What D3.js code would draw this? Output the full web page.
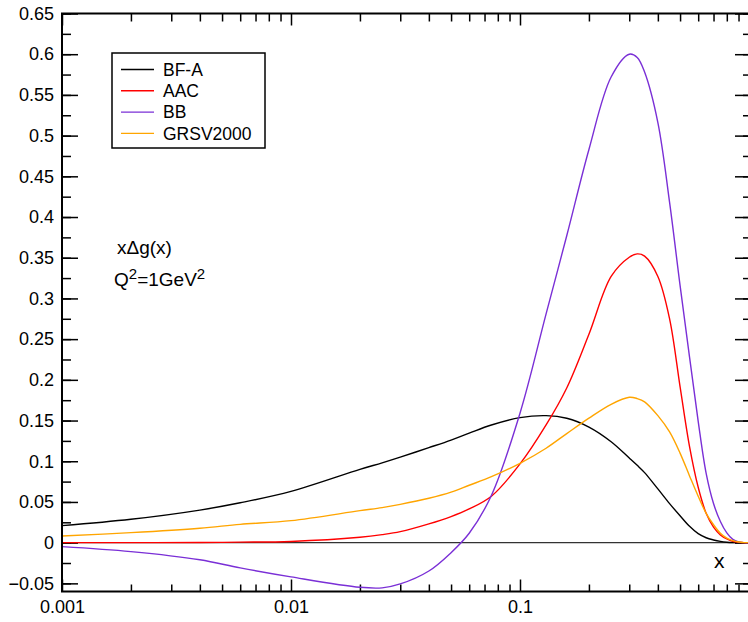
<!DOCTYPE html>
<html>
<head>
<meta charset="utf-8">
<script src="https://cdn.jsdelivr.net/npm/d3@7"></script>
<style>
  body { margin: 0; background: #fff; }
  svg text { font-family: "Liberation Sans", Arial, sans-serif; fill: #000; }
</style>
</head>
<body>
<svg id="chart" width="748" height="622"></svg>
<script>
// x Delta g(x) at Q^2 = 1 GeV^2 for four parametrisations

var xs = [0.001, 0.002, 0.004, 0.006, 0.01, 0.02, 0.025, 0.03, 0.04, 0.05, 0.06, 0.075,
          0.1, 0.13, 0.16, 0.2, 0.25, 0.3, 0.325, 0.35, 0.4, 0.45, 0.5, 0.55, 0.6, 0.65,
          0.7, 0.75, 0.8, 0.85, 0.9, 0.95, 1.0];

var bfa = [0.0209, 0.0287, 0.040, 0.049, 0.063, 0.090, 0.098, 0.105, 0.1167, 0.126, 0.1345, 0.1445,
           0.1536, 0.156, 0.1528, 0.142, 0.124, 0.104, 0.095, 0.086, 0.066, 0.048, 0.033, 0.020, 0.011, 0.006,
           0.0033, 0.0015, 0.0005, 0.0001, 0, 0, 0];

var aac = [0, 0, 0.0002, 0.0006, 0.0015, 0.0066, 0.0098, 0.0135, 0.023, 0.032, 0.0414, 0.057,
           0.0967, 0.1446, 0.19, 0.256, 0.327, 0.3506, 0.3547, 0.352, 0.327, 0.275, 0.1917, 0.118, 0.068, 0.036,
           0.019, 0.0095, 0.0045, 0.0015, 0.0005, 0, 0];

var bb = [-0.0049, -0.011, -0.021, -0.031, -0.042, -0.0548, -0.0555, -0.0507, -0.0348, -0.0123, 0.0115, 0.058,
          0.159, 0.281, 0.377, 0.483, 0.572, 0.600, 0.596, 0.578, 0.516, 0.418, 0.316, 0.228, 0.149, 0.085,
          0.048, 0.026, 0.012, 0.004, 0.001, 0, 0];

var grsv = [0.0082, 0.0123, 0.0177, 0.0225, 0.027, 0.0393, 0.043, 0.047, 0.0545, 0.062, 0.0705, 0.081,
            0.0975, 0.116, 0.134, 0.153, 0.170, 0.1786, 0.177, 0.173, 0.156, 0.136, 0.110, 0.082, 0.057, 0.036,
            0.022, 0.0115, 0.0055, 0.0025, 0.0008, 0.0001, 0];

var seriesNames = ["BF-A", "AAC", "BB", "GRSV2000"];
var seriesValues = [bfa, aac, bb, grsv];
var seriesColors = ["#000000", "#ff0000", "#7a2fd6", "#ffa500"];

var xMajor = [0.001, 0.01, 0.1];
var yMajor = d3.range(-0.05, 0.651, 0.05).map(function (d) { return +d.toFixed(2); });
var yMinor = d3.range(-0.05, 0.651, 0.025).map(function (d) { return +d.toFixed(3); });

var plotLeft = 62, plotRight = 749, plotTop = 13.5, plotBottom = 591.5;

var x = d3.scaleLog().domain([0.001, 1]).range([plotLeft, plotRight]);
var y = d3.scaleLinear().domain([-0.06, 0.65]).range([plotBottom, plotTop]);

var svg = d3.select("#chart");

var xMinor = [];
[0.001, 0.01, 0.1].forEach(function (dec) {
  for (var k = 2; k <= 9; k++) xMinor.push(+(dec * k).toPrecision(3));
});

var fmtY = function (d) { return d === 0 ? "0" : d3.format("")(d); };

///////////////////////////////////////////////////////////////////////////////
// Axes: ticks point into the plot on all four sides

var styleAxis = function (g) {
  g.select(".domain").remove();
  g.selectAll(".tick line").attr("stroke", "#000").attr("stroke-width", 1.5);
  g.selectAll(".tick text").style("font-size", "18px");
};

svg.append("g").attr("transform", "translate(0," + plotBottom + ")")
  .call(d3.axisBottom(x).tickValues(xMajor).tickSize(-12).tickPadding(9)
    .tickFormat(d3.format("")))
  .call(styleAxis);
svg.append("g").attr("transform", "translate(0," + plotBottom + ")")
  .call(d3.axisBottom(x).tickValues(xMinor).tickSize(-7).tickFormat(""))
  .call(styleAxis);
svg.append("g").attr("transform", "translate(0," + plotTop + ")")
  .call(d3.axisTop(x).tickValues(xMajor).tickSize(-12).tickFormat(""))
  .call(styleAxis);
svg.append("g").attr("transform", "translate(0," + plotTop + ")")
  .call(d3.axisTop(x).tickValues(xMinor).tickSize(-8).tickFormat(""))
  .call(styleAxis);

svg.append("g").attr("transform", "translate(" + plotLeft + ",0)")
  .call(d3.axisLeft(y).tickValues(yMinor).tickSize(-9).tickFormat(""))
  .call(styleAxis);
svg.append("g").attr("transform", "translate(" + plotLeft + ",0)")
  .call(d3.axisLeft(y).tickValues(yMajor).tickSize(-16).tickPadding(8).tickFormat(fmtY))
  .call(styleAxis);
svg.append("g").attr("transform", "translate(" + plotRight + ",0)")
  .call(d3.axisRight(y).tickValues(yMinor).tickSize(-6).tickFormat(""))
  .call(styleAxis);
svg.append("g").attr("transform", "translate(" + plotRight + ",0)")
  .call(d3.axisRight(y).tickValues(yMajor).tickSize(-14).tickFormat(""))
  .call(styleAxis);

// zero line
svg.append("line")
  .attr("x1", plotLeft).attr("x2", plotRight)
  .attr("y1", y(0)).attr("y2", y(0))
  .attr("stroke", "#333").attr("stroke-width", 1.2);

///////////////////////////////////////////////////////////////////////////////
// Curves

var line = d3.line()
  .x(function (d) { return x(d[0]); })
  .y(function (d) { return y(d[1]); })
  .curve(d3.curveCatmullRom.alpha(0.5));

seriesValues.forEach(function (vals, i) {
  svg.append("path")
    .datum(xs.map(function (xv, j) { return [xv, vals[j]]; }))
    .attr("fill", "none")
    .attr("stroke", seriesColors[i])
    .attr("stroke-width", 1.4)
    .attr("d", line);
});

// frame
svg.append("rect")
  .attr("x", plotLeft).attr("y", plotTop)
  .attr("width", plotRight - plotLeft).attr("height", plotBottom - plotTop)
  .attr("fill", "none").attr("stroke", "#000").attr("stroke-width", 2);

///////////////////////////////////////////////////////////////////////////////
// Legend

var legend = svg.append("g").attr("transform", "translate(112,53)");
legend.append("rect")
  .attr("width", 153).attr("height", 95)
  .attr("fill", "#fff").attr("stroke", "#000").attr("stroke-width", 1.5);

seriesNames.forEach(function (name, i) {
  var ly = 16.5 + i * 21.3;
  legend.append("line")
    .attr("x1", 9).attr("x2", 42).attr("y1", ly).attr("y2", ly)
    .attr("stroke", seriesColors[i]).attr("stroke-width", 1.4);
  legend.append("text")
    .attr("x", 51).attr("y", ly + 6.3)
    .style("font-size", "17.5px")
    .text(name);
});

///////////////////////////////////////////////////////////////////////////////
// Annotations

svg.append("text")
  .attr("x", 117).attr("y", 254)
  .style("font-size", "19px")
  .text("x\u0394g(x)");

var q = svg.append("text")
  .attr("x", 114).attr("y", 286)
  .style("font-size", "19px");
q.append("tspan").text("Q");
q.append("tspan").attr("dy", -7).style("font-size", "15px").text("2");
q.append("tspan").attr("dy", 7).text("=1GeV");
q.append("tspan").attr("dy", -7).style("font-size", "15px").text("2");

svg.append("text")
  .attr("x", 714).attr("y", 568)
  .style("font-size", "21px")
  .text("x");
</script>
</body>
</html>
